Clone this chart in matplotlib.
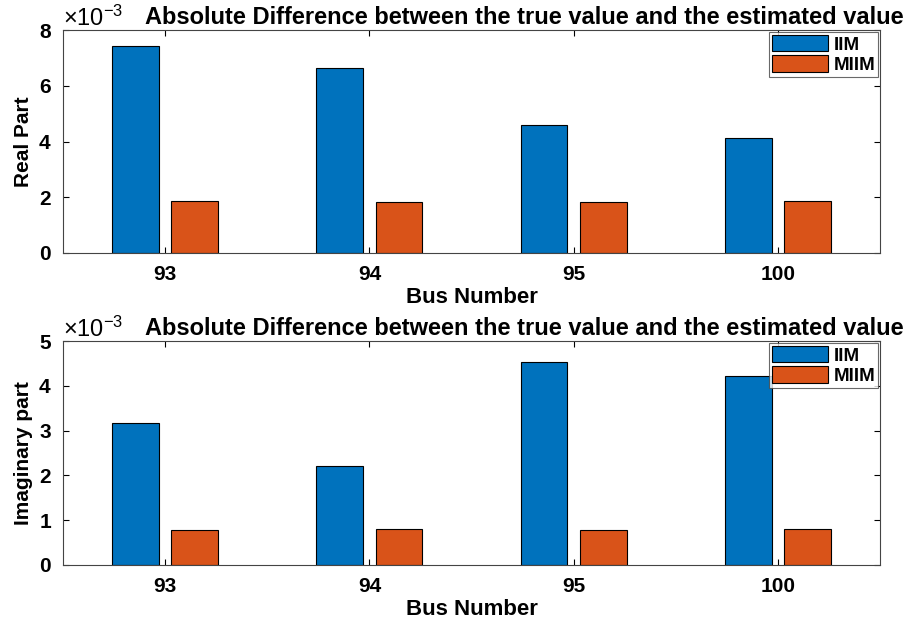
import matplotlib
matplotlib.use("Agg")
import matplotlib.pyplot as plt
import matplotlib.ticker as mticker
import numpy as np

plt.rcParams['font.family'] = ['Liberation Sans', 'DejaVu Sans']
plt.rcParams['font.weight'] = 'bold'
plt.rcParams['mathtext.default'] = 'regular'

# 数据
buses = ["93", "94", "95", "100"]
real_iim = [7.44e-3, 6.62e-3, 4.59e-3, 4.12e-3]
real_miim = [1.86e-3, 1.83e-3, 1.83e-3, 1.86e-3]
imag_iim = [3.16e-3, 2.21e-3, 4.53e-3, 4.21e-3]
imag_miim = [0.78e-3, 0.81e-3, 0.78e-3, 0.80e-3]

blue = "#0072BD"
orange = "#D95319"
title = "Absolute Difference between the true value and the estimated value"

fig = plt.figure(figsize=(9.06, 6.21), dpi=100)
ax1 = fig.add_axes([63 / 906, 1 - 253 / 621, 817 / 906, 223 / 621])
ax2 = fig.add_axes([63 / 906, 1 - 565 / 621, 817 / 906, 224 / 621])


def draw(ax, iim, miim, ylim, ylabel):
    x = np.arange(1, len(buses) + 1)
    w = 0.23
    ax.bar(x - 0.145, iim, w, color=blue, edgecolor="black", linewidth=0.8, label="IIM")
    ax.bar(x + 0.145, miim, w, color=orange, edgecolor="black", linewidth=0.8, label="MIIM")
    ax.set_xlim(0.5, 4.5)
    ax.set_ylim(0, ylim)
    ax.set_xticks(x)
    ax.set_xticklabels(buses)
    fmt = mticker.ScalarFormatter(useMathText=True)
    fmt.set_powerlimits((-2, 2))
    ax.yaxis.set_major_formatter(fmt)
    ax.yaxis.get_offset_text().set_fontsize(17)
    ax.yaxis.get_offset_text().set_fontweight('normal')
    ax.tick_params(direction="in", top=True, right=True, labelsize=15, length=4, width=0.8)
    ax.tick_params(axis="x", pad=9)
    ax.tick_params(axis="y", pad=8)
    for s in ax.spines.values():
        s.set_linewidth(0.8)
        s.set_color("#444444")
    ax.set_xlabel("Bus Number", fontsize=16, fontweight="bold", labelpad=2)
    ax.set_ylabel(ylabel, fontsize=15, fontweight="bold", labelpad=4)
    ax.set_title(title, fontsize=17, fontweight="bold", x=0.565, pad=4)
    leg = ax.legend(loc="upper right", fontsize=13.5, frameon=True, fancybox=False,
                    handlelength=3.0, handleheight=1.0, borderpad=0.15,
                    labelspacing=0.1, handletextpad=0.3, borderaxespad=0.1)
    leg.get_frame().set_edgecolor("#444444")
    leg.get_frame().set_linewidth(0.8)


draw(ax1, real_iim, real_miim, 8e-3, "Real Part")
draw(ax2, imag_iim, imag_miim, 5e-3, "Imaginary part")

fig.savefig("out.png", dpi=100)
